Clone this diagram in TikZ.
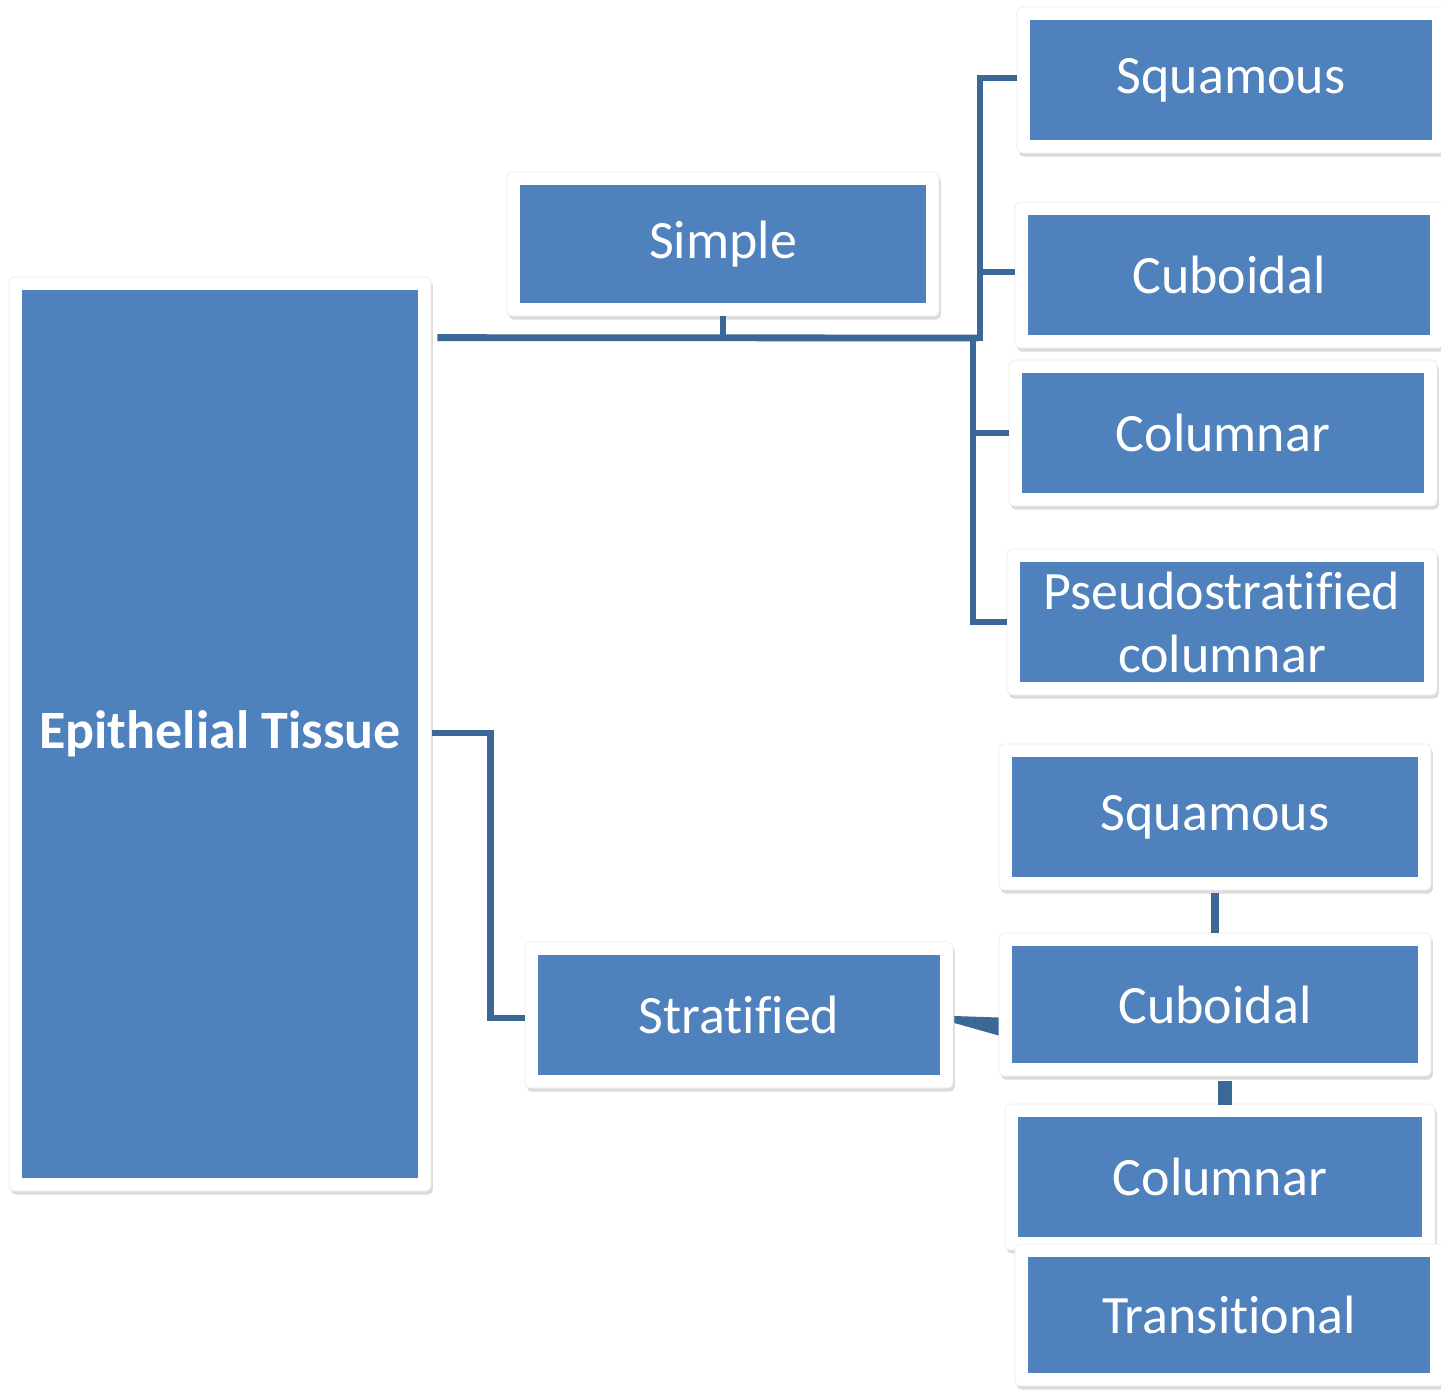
\documentclass[tikz,border=0pt]{standalone}
\usepackage{fontspec}
\setmainfont{Carlito}[Ligatures=NoCommon]
\usetikzlibrary{shadows,calc}
\definecolor{boxblue}{HTML}{4F81BD}
\definecolor{linkblue}{HTML}{3C6897}
\tikzset{
  frame/.style={fill=white, draw=black!7, line width=0.4pt, rounded corners=2.5pt, drop shadow={shadow xshift=0.9pt, shadow yshift=-1.8pt, opacity=0.28}},
  bluebox/.style={fill=boxblue, text=white, inner sep=0pt, font=\fontsize{27}{31.5}\selectfont, align=center},
  link/.style={draw=linkblue, line width=3.4pt},
}
\newcommand\tbox[6]{%
  \path[frame] (#2-13,#3-13) rectangle (#4+13,#5+13);
  \pgfmathsetmacro\bw{(#4-#2)*0.5}%
  \pgfmathsetmacro\bh{(#5-#3)*0.5}%
  \node[bluebox, minimum width=\bw pt, minimum height=\bh pt] (#1) at ({(#2+#4)/2},{(#3+#5)/2}) {#6};
}
\begin{document}
\begin{tikzpicture}[x=0.5pt,y=-0.5pt]
\useasboundingbox (0,0) rectangle (1441,1389);
\fill[white] (0,0) rectangle (1441,1389);
\tbox{epi}{22}{290}{418}{1178}{\bfseries Epithelial Tissue}
\tbox{simple}{520}{185}{926}{303}{Simple}
\tbox{sqa}{1030}{20}{1432}{140}{Squamous}
\tbox{cua}{1028}{215}{1430}{335}{Cuboidal}
\tbox{coa}{1022}{373}{1424}{493}{Columnar}
\tbox{ps}{1020}{562}{1424}{682}{Pseudostratified\\columnar}
\tbox{sqb}{1012}{757}{1418}{877}{Squamous}
\tbox{cub}{1012}{946}{1418}{1063}{Cuboidal}
\tbox{cob}{1018}{1117}{1422}{1237}{Columnar}
\tbox{tr}{1028}{1257}{1430}{1373}{Transitional}
\tbox{strat}{538}{955}{940}{1075}{Stratified}
\coordinate (sj) at (978,338);
\coordinate (upper) at (980,341);
\coordinate (lower) at (973,335);
\draw[link] ($(epi.north east)+(19,48)$) -- (sj);
\draw[link] ($(simple.south)+(0,13)$) -- (simple.south |- sj);
\draw[link] (upper) |- ($(sqa.west)+(-13,-2)$);
\draw[link] ($(upper |- cua.west)+(0,-3)$) -- ($(cua.west)+(-13,-3)$);
\draw[link] (lower) |- ($(ps.west)+(-13,0)$);
\draw[link] (lower |- coa.west) -- ($(coa.west)+(-13,0)$);
\draw[link] ($(epi.east)+(14,-1)$) -- ++(58,0) |- ($(strat.west)+(-13,3)$);
\fill[linkblue] ($(strat.east)+(14,1)$) -- ($(cub.west)+(-13,13)$) -- ($(cub.west)+(-13,31)$) -- ($(strat.east)+(14,8)$) -- cycle;
\draw[link, line width=4pt] ($(sqb.south)+(0,16)$) -- ($(cub.north)+(0,-13)$);
\draw[link, line width=7pt] ($(cub.south)+(10,18)$) -- ($(cob.north)+(5,-12)$);
\end{tikzpicture}
\end{document}
